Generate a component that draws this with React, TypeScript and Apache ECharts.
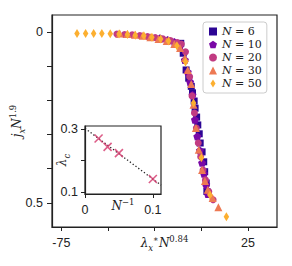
import React, { useEffect, useRef } from "react";
import * as echarts from "echarts";

// ---- main panel data (x = lambda_x^* N^0.84, y = j_x N^1.9) ----
const n6X = [-11.05, -9.72, -8.18, -6.79, -5.41, -4.74, -3.87, -3.36, -2.54, -1.92, -1.15, -0.64, 0.38, 1.26, 1.77, 2.59, 2.95];
const n6Y = [0.033, 0.062, 0.111, 0.135, 0.159, 0.178, 0.202, 0.223, 0.249, 0.272, 0.298, 0.325, 0.351, 0.38, 0.409, 0.442, 0.467];

const n10X = [-22.18, -18.08, -14.49, -11.41, -8.85, -7.31, -6.03, -4.74, -3.46, -2.18, -0.79, 0.38, 1.41, 2.59, 3.46];
const n10Y = [0.018, 0.023, 0.029, 0.041, 0.082, 0.117, 0.146, 0.184, 0.257, 0.306, 0.347, 0.383, 0.415, 0.447, 0.474];

const n20X = [-45.25, -41.15, -37.05, -32.95, -28.84, -24.74, -20.64, -16.54, -12.95, -10.74, -8.49, -6.28, -5.0, -3.72, -2.69, -1.67, -0.38, 0.9, 2.18, 3.97, 6.28];
const n20Y = [0.006, 0.007, 0.008, 0.01, 0.013, 0.016, 0.02, 0.025, 0.031, 0.035, 0.058, 0.131, 0.187, 0.237, 0.281, 0.325, 0.365, 0.404, 0.433, 0.467, 0.491];

const n30X = [-43.71, -39.61, -35.51, -31.41, -27.31, -22.95, -18.59, -14.49, -11.41, -8.85, -7.31, -5.41, -4.23, -2.95, -1.41, 0.38, 1.92, 3.46, 6.03, 9.1];
const n30Y = [0.004, 0.006, 0.008, 0.011, 0.015, 0.02, 0.026, 0.035, 0.047, 0.076, 0.111, 0.152, 0.213, 0.281, 0.345, 0.404, 0.436, 0.462, 0.486, 0.513];

const n50X = [-66.6, -62.0, -57.7, -53.3, -48.8, -44.1, -39.6, -35.4, -30.8, -26.5, -21.8, -17.6, -13.1, -8.5, -4.2, 0.0, 4.6, 13.4];
const n50Y = [0.004, 0.004, 0.004, 0.004, 0.005, 0.006, 0.007, 0.009, 0.011, 0.015, 0.02, 0.026, 0.04, 0.088, 0.208, 0.368, 0.477, 0.541];

const seriesNames = ["N=6", "N=10", "N=20", "N=30", "N=50"];
const xTicks = [-75, -50, -25, 0, 25];
const xTickLabels = [-75, 25];
const yTicks = [0, 0.1, 0.2, 0.3, 0.4, 0.5];
const yTickLabels = [0, 0.5];

// ---- inset data (lambda_c vs 1/N) ----
const invN = [0.02, 0.0333, 0.05, 0.1];
const lambdaC = [0.271, 0.244, 0.224, 0.141];
const fitX = [0, 0.112];
const fitY = [0.3035, 0.1215];
const insetXTicks = [0, 0.1];
const insetYTicks = [0.1, 0.2, 0.3];
const insetYLabels = [0.1, 0.3];

const COLORS = ["#2c0594", "#7a08a6", "#c13b82", "#ed7953", "#fcaf30"];
const PENTAGON = "path://M0,-1 L0.951,-0.309 L0.588,0.809 L-0.588,0.809 L-0.951,-0.309 Z";
const THIN_DIAMOND = "path://M0,-1.5 L0.95,0 L0,1.5 L-0.95,0 Z";
const CROSS = "path://M0,0 L10,10 M10,0 L0,10";

const AX = "#222";
const SANS = "Liberation Sans";
const SERIF = "DejaVu Serif";

const mathRich = {
  i: { fontFamily: SERIF, fontStyle: "italic", fontSize: 12, lineHeight: 18, color: AX },
  r: { fontFamily: SERIF, fontSize: 12, lineHeight: 18, color: AX },
  sub: { fontFamily: SERIF, fontStyle: "italic", fontSize: 8.5, lineHeight: 9, verticalAlign: "bottom", color: AX },
  sup: { fontFamily: SERIF, fontSize: 8.5, lineHeight: 9, verticalAlign: "top", color: AX },
};

const zip = (xs: number[], ys: number[]) => xs.map((x, i) => [x, ys[i]]);

export default function App() {
  const ref = useRef<HTMLDivElement>(null);
  useEffect(() => {
    document.body.style.margin = "0";
    if (!ref.current) return;
    const chart = echarts.init(ref.current, undefined, { renderer: "svg" });
    const tickLabelStyle = { fontFamily: SANS, fontSize: 12.5, color: AX };
    const symbols = ["rect", PENTAGON, "circle", "triangle", THIN_DIAMOND];
    const sizes: any[] = [7, 8, 7, 8, [5.5, 9]];
    const xs = [n6X, n10X, n20X, n30X, n50X];
    const ys = [n6Y, n10Y, n20Y, n30Y, n50Y];
    const axisLine = { show: true, onZero: false, lineStyle: { color: AX, width: 1.2 } };
    const option: any = {
      animation: false,
      backgroundColor: "#fff",
      grid: [
        { left: 43, right: 15, top: 15, bottom: 39, show: true, borderColor: AX, borderWidth: 1.2, backgroundColor: "transparent" },
        { left: 85, top: 126, width: 76, height: 68, show: true, borderColor: AX, borderWidth: 1.2, backgroundColor: "#fff" },
      ],
      xAxis: [
        {
          type: "value", gridIndex: 0, min: -80, max: 40.5,
          axisLine,
          splitLine: { show: false },
          axisTick: { show: true, length: 4, customValues: xTicks, lineStyle: { color: AX, width: 1 } },
          axisLabel: { ...tickLabelStyle, margin: 9, customValues: xTickLabels, formatter: (v: number) => String(v) },
          name: "{i|λ}{sub|x}{sup|∗}{i|N}{sup|0.84}",
          nameLocation: "middle", nameGap: 7, nameMoveOverlap: false,
          nameTextStyle: { rich: mathRich, verticalAlign: "top" },
        },
        {
          type: "value", gridIndex: 1, min: 0, max: 0.112,
          axisLine,
          splitLine: { show: false },
          axisTick: { show: true, length: 4, customValues: insetXTicks, lineStyle: { color: AX, width: 1 } },
          axisLabel: { ...tickLabelStyle, margin: 9, customValues: insetXTicks, formatter: (v: number) => String(v) },
          name: "{i|N}{sup|−1}",
          nameLocation: "middle", nameGap: 3, nameMoveOverlap: false,
          nameTextStyle: { rich: mathRich, verticalAlign: "top" },
        },
      ],
      yAxis: [
        {
          type: "value", gridIndex: 0, min: -0.05, max: 0.571, inverse: true,
          axisLine,
          splitLine: { show: false },
          axisTick: { show: true, length: 5, customValues: yTicks, lineStyle: { color: AX, width: 1 } },
          axisLabel: { ...tickLabelStyle, margin: 9, customValues: yTickLabels, formatter: (v: number) => String(v) },
          name: "{i|j}{sub|x}{i|N}{sup|1.9}",
          nameLocation: "middle", nameGap: 26, nameMoveOverlap: false,
          nameTextStyle: { rich: mathRich },
        },
        {
          type: "value", gridIndex: 1, min: 0.093, max: 0.311,
          axisLine,
          splitLine: { show: false },
          axisTick: { show: true, length: 4, customValues: insetYTicks, lineStyle: { color: AX, width: 1 } },
          axisLabel: { ...tickLabelStyle, margin: 7, customValues: insetYLabels, formatter: (v: number) => String(v) },
          name: "{i|λ}{sub|c}",
          nameLocation: "middle", nameGap: 14, nameMoveOverlap: false,
          nameTextStyle: { rich: mathRich },
        },
      ],
      legend: {
        orient: "vertical",
        left: 203, top: 22,
        padding: [3, 5, 3, 6],
        itemGap: 0,
        itemWidth: 8, itemHeight: 8,
        borderColor: "#cccccc", borderWidth: 1, borderRadius: 3,
        backgroundColor: "rgba(255,255,255,0.85)",
        data: seriesNames.map((n, i) => ({ name: n, icon: symbols[i] })),
        formatter: (name: string) => `{i|N}{r| = ${name.split("=")[1]}}`,
        textStyle: {
          lineHeight: 13,
          rich: {
            i: { fontFamily: SERIF, fontStyle: "italic", fontSize: 11, lineHeight: 13, color: AX },
            r: { fontFamily: SERIF, fontSize: 11, lineHeight: 13, color: AX },
          },
        },
      },
      series: [
        ...seriesNames.map((n, i) => ({
          name: n,
          type: "scatter",
          xAxisIndex: 0, yAxisIndex: 0,
          symbol: symbols[i],
          symbolSize: sizes[i],
          itemStyle: { color: COLORS[i], opacity: 1 },
          data: zip(xs[i], ys[i]),
          z: 2 + i,
        })),
        {
          name: "fit",
          type: "line",
          xAxisIndex: 1, yAxisIndex: 1,
          data: zip(fitX, fitY),
          symbol: "none",
          lineStyle: { color: "#222", width: 1.3, type: [1.3, 2.2] },
          z: 3,
        },
        {
          name: "lambda_c",
          type: "scatter",
          xAxisIndex: 1, yAxisIndex: 1,
          data: zip(invN, lambdaC),
          symbol: CROSS,
          symbolSize: 8,
          itemStyle: { color: "transparent", borderColor: "#d5356a", borderWidth: 1.6 },
          z: 4,
        },
      ],
    };
    chart.setOption(option);
    return () => chart.dispose();
  }, []);
  return <div ref={ref} style={{ width: 292, height: 266 }} />;
}
